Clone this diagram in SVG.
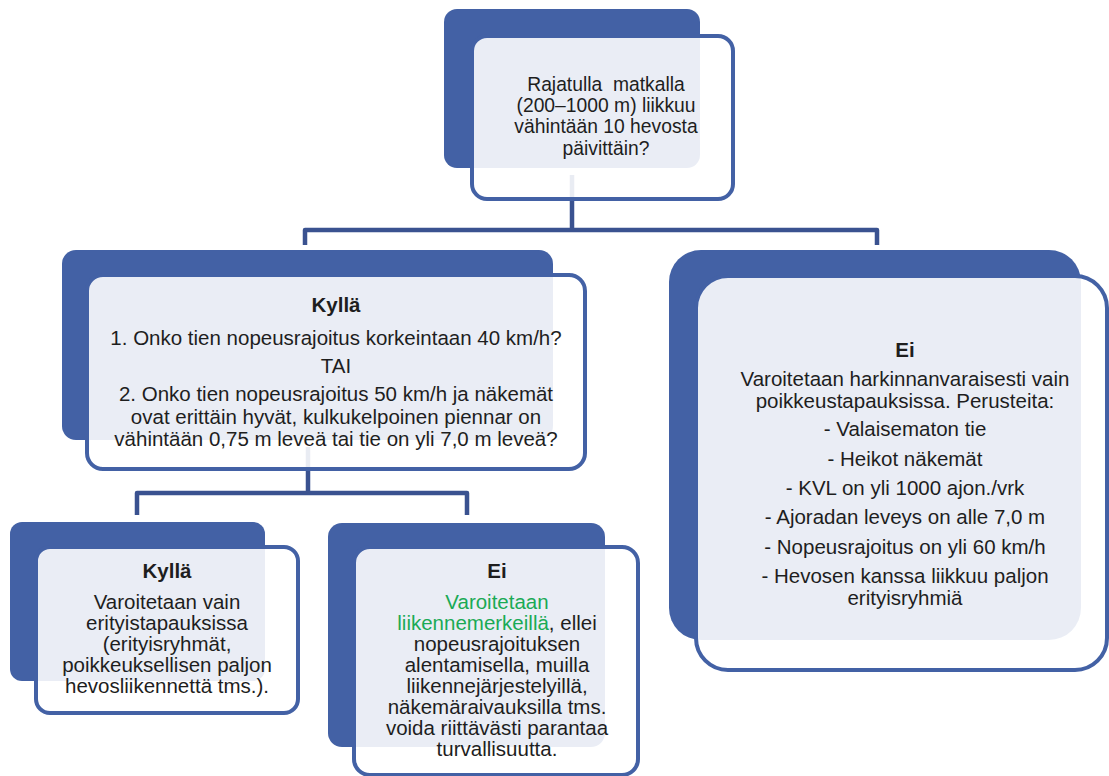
<svg xmlns="http://www.w3.org/2000/svg" width="1109" height="776" viewBox="0 0 1109 776">
<style>
.back{fill:#4361a5}
.front{fill:#ffffff;fill-opacity:0.89;stroke:#4361a5;stroke-width:4}
.conn{fill:none;stroke:#3a5290;stroke-width:4.5;stroke-linejoin:round}
text{font-family:"Liberation Sans",Arial,sans-serif;font-size:20.5px;fill:#1e1e1e;text-anchor:middle}
.t{font-size:19.3px}
.b{font-weight:bold}
.g{fill:#1aaa55}
</style>
<rect width="1109" height="776" fill="#ffffff"/>
<g id="backs">
<rect class="back" x="444" y="9" width="256" height="159" rx="13"/>
<rect class="back" x="62" y="250" width="491" height="190" rx="14"/>
<rect class="back" x="669" y="250" width="412" height="390" rx="32"/>
<rect class="back" x="10" y="522" width="255" height="159" rx="12"/>
<rect class="back" x="328" y="523" width="277" height="224" rx="14"/>
</g>
<g id="connectors">
<path class="conn" d="M572 175 V230 M305 245 V230 H877 V245"/>
<path class="conn" d="M308 447 V493 M137 515 V493 H467 V515"/>
</g>
<g id="node-top">
<rect class="front" x="472" y="36" width="261" height="163" rx="15"/>
<text class="t" x="606" y="91" xml:space="preserve">Rajatulla  matkalla</text>
<text class="t" x="606" y="112">(200–1000 m) liikkuu</text>
<text class="t" x="606" y="133">vähintään 10 hevosta</text>
<text class="t" x="606" y="155">päivittäin?</text>
</g>
<g id="node-kylla1">
<rect class="front" x="87" y="275" width="498" height="194" rx="16"/>
<text class="b" x="336" y="312">Kyllä</text>
<text x="336" y="345">1. Onko tien nopeusrajoitus korkeintaan 40 km/h?</text>
<text x="336" y="373">TAI</text>
<text x="336" y="401">2. Onko tien nopeusrajoitus 50 km/h ja näkemät</text>
<text x="336" y="424">ovat erittäin hyvät, kulkukelpoinen piennar on</text>
<text x="336" y="446">vähintään 0,75 m leveä tai tie on yli 7,0 m leveä?</text>
</g>
<g id="node-ei1">
<rect class="front" x="696" y="276" width="411" height="394" rx="32"/>
<text class="b" x="905" y="357">Ei</text>
<text x="905" y="386">Varoitetaan harkinnanvaraisesti vain</text>
<text x="905" y="408">poikkeustapauksissa. Perusteita:</text>
<text x="905" y="436">- Valaisematon tie</text>
<text x="905" y="466">- Heikot näkemät</text>
<text x="905" y="495">- KVL on yli 1000 ajon./vrk</text>
<text x="905" y="524">- Ajoradan leveys on alle 7,0 m</text>
<text x="905" y="554">- Nopeusrajoitus on yli 60 km/h</text>
<text x="905" y="583">- Hevosen kanssa liikkuu paljon</text>
<text x="905" y="605">erityisryhmiä</text>
</g>
<g id="node-kylla2">
<rect class="front" x="36" y="547" width="262" height="166" rx="14"/>
<text class="b" x="167" y="578">Kyllä</text>
<text x="167" y="609">Varoitetaan vain</text>
<text x="167" y="630">erityistapauksissa</text>
<text x="167" y="651">(erityisryhmät,</text>
<text x="167" y="672">poikkeuksellisen paljon</text>
<text x="167" y="693">hevosliikennettä tms.).</text>
</g>
<g id="node-ei2">
<rect class="front" x="354" y="547" width="284" height="228" rx="16"/>
<text class="b" x="497" y="578">Ei</text>
<text class="g" x="497" y="609">Varoitetaan</text>
<text x="497" y="630"><tspan class="g">liikennemerkeillä</tspan>, ellei</text>
<text x="497" y="651">nopeusrajoituksen</text>
<text x="497" y="672">alentamisella, muilla</text>
<text x="497" y="693">liikennejärjestelyillä,</text>
<text x="497" y="714">näkemäraivauksilla tms.</text>
<text x="497" y="735">voida riittävästi parantaa</text>
<text x="497" y="756">turvallisuutta.</text>
</g>
</svg>
